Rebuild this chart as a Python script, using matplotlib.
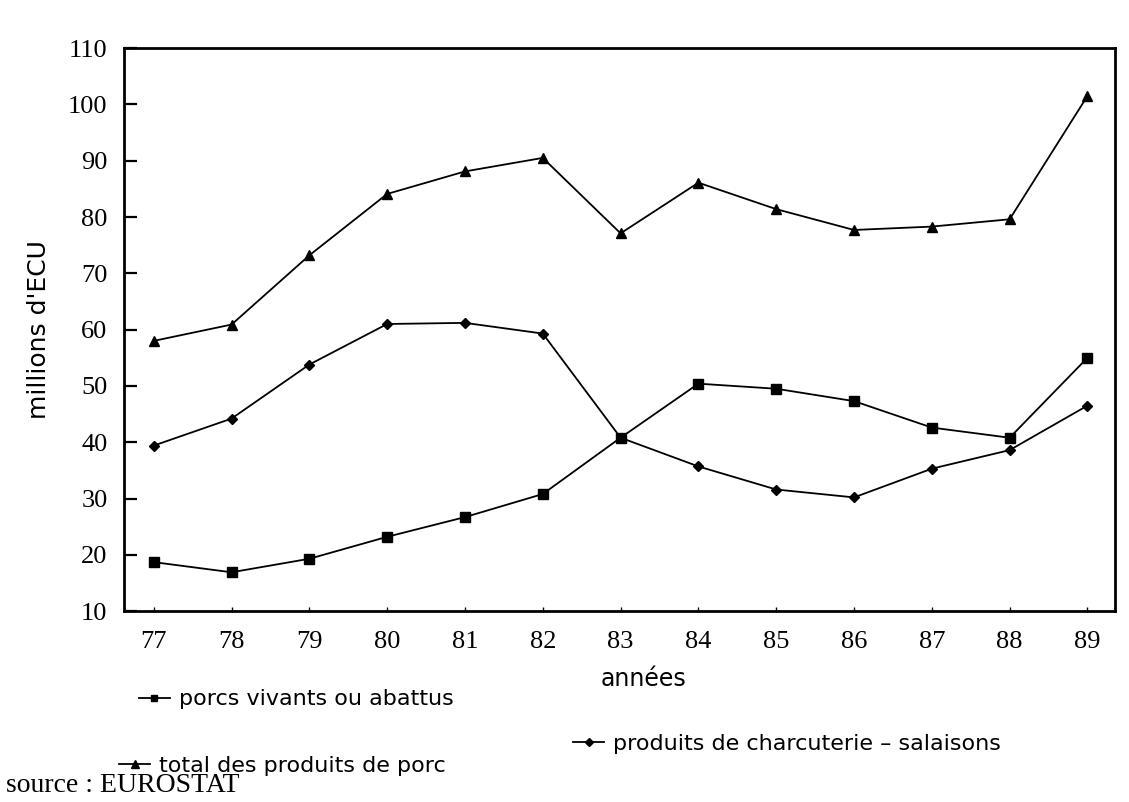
import numpy as np
import matplotlib.pyplot as plt
from matplotlib.lines import Line2D

plt.rcParams['font.family'] = 'Liberation Serif'
plt.rcParams['font.size'] = 15

annees = [77, 78, 79, 80, 81, 82, 83, 84, 85, 86, 87, 88, 89]
porcs_vivants = [18.7, 16.9, 19.3, 23.2, 26.7, 30.8, 40.8, 50.4, 49.5, 47.3, 42.6, 40.8, 55.0]
total_porc = [58.0, 60.9, 73.2, 84.1, 88.1, 90.5, 77.1, 86.1, 81.4, 77.7, 78.3, 79.6, 101.5]
charcuterie = [39.4, 44.2, 53.8, 61.0, 61.2, 59.3, 40.8, 35.7, 31.6, 30.2, 35.3, 38.6, 46.5]

y_ticks = [10, 20, 30, 40, 50, 60, 70, 80, 90, 100, 110]

sans = 'DejaVu Sans'

fig = plt.figure(figsize=(11.29, 8.02), dpi=100)
ax = fig.add_axes([0.11, 0.238, 0.878, 0.702])

l_porcs, = ax.plot(annees, porcs_vivants, color='black', lw=1.3,
                   marker='s', markersize=6.5)
l_total, = ax.plot(annees, total_porc, color='black', lw=1.3,
                   marker='^', markersize=7.5)
l_charc, = ax.plot(annees, charcuterie, color='black', lw=1.3,
                   marker='D', markersize=5.5)

ax.set_xlim(76.62, 89.36)
ax.set_ylim(10, 110)
ax.set_xticks(annees)
ax.set_yticks(y_ticks)

for sp in ax.spines.values():
    sp.set_linewidth(2)

ax.tick_params(axis='y', direction='in', length=9, width=1.6, pad=12, labelsize=19)
ax.tick_params(axis='x', direction='in', length=3, width=1, pad=14, labelsize=19)

ax.set_ylabel("millions d'ECU", family=sans, fontsize=18, labelpad=12)
ax.text(83.3, -0.1, 'années', transform=ax.get_xaxis_transform(),
        family=sans, fontsize=17, ha='center', va='top')

# legend entries laid out like the original
h_porcs = Line2D([], [], color='black', lw=1.3, marker='s', markersize=5)
h_total = Line2D([], [], color='black', lw=1.3, marker='^', markersize=5.5)
h_charc = Line2D([], [], color='black', lw=1.3, marker='D', markersize=4.5)

leg_kw = dict(frameon=False, handlelength=1.4, handletextpad=0.4,
              prop={'family': sans, 'size': 16})
fig.legend([h_porcs], ['porcs vivants ou abattus'],
           loc='center left', bbox_to_anchor=(0.105, 0.128), **leg_kw)
fig.legend([h_total], ['total des produits de porc'],
           loc='center left', bbox_to_anchor=(0.088, 0.045), **leg_kw)
fig.legend([h_charc], ['produits de charcuterie \u2013 salaisons'],
           loc='center left', bbox_to_anchor=(0.49, 0.072), **leg_kw)

fig.text(0.005, 0.005, 'source : EUROSTAT', fontsize=20, ha='left', va='bottom')

plt.savefig('out.png', dpi=100)
